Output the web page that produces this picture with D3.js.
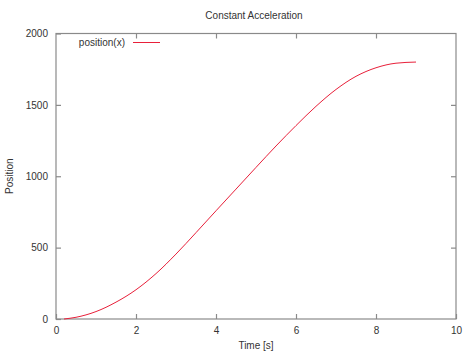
<!DOCTYPE html>
<html>
<head>
<meta charset="utf-8">
<script src="https://cdn.jsdelivr.net/npm/d3@7"></script>
<style>
  html, body { margin: 0; padding: 0; background: #fff; }
  svg { display: block; font-family: "Liberation Sans", Arial, sans-serif; }
</style>
</head>
<body>
<svg id="chart" width="474" height="355"></svg>
<script>
const timeValues = [0.2, 0.5, 1.0, 1.5, 2.0, 2.5, 3.0, 3.5, 4.0, 4.5, 5.0, 5.5, 6.0, 6.5, 7.0, 7.5, 8.0, 8.5, 9.0];
const positionValues = [0, 12, 52, 118, 205, 318, 455, 605, 758, 910, 1062, 1212, 1355, 1490, 1608, 1700, 1760, 1792, 1800];
const xTicks = [0, 2, 4, 6, 8, 10];
const yTicks = [0, 500, 1000, 1500, 2000];
const seriesName = "position(x)";
const chartTitle = "Constant Acceleration";
const xLabel = "Time [s]";
const yLabel = "Position";

(function () {
const svg = d3.select("#chart");
const mL = 56, mR = 456, mT = 33.5, mB = 319;
const x = d3.scaleLinear().domain([0, 10]).range([mL, mR]);
const y = d3.scaleLinear().domain([0, 2000]).range([mB, mT]);
const textColor = "#333";
const borderColor = "#8a8a8a";
const tickLen = 5;

svg.append("rect")
  .attr("x", mL).attr("y", mT)
  .attr("width", mR - mL).attr("height", mB - mT)
  .attr("fill", "none").attr("stroke", borderColor).attr("stroke-width", 1.2);

const gxb = svg.append("g").attr("transform", `translate(0,${mB})`)
  .call(d3.axisBottom(x).tickValues(xTicks).tickSize(-tickLen).tickPadding(8).tickFormat(d3.format("d")));
const gxt = svg.append("g").attr("transform", `translate(0,${mT})`)
  .call(d3.axisTop(x).tickValues(xTicks.slice(1, -1)).tickSize(-tickLen).tickFormat(""));
const gyl = svg.append("g").attr("transform", `translate(${mL},0)`)
  .call(d3.axisLeft(y).tickValues(yTicks).tickSize(-tickLen).tickPadding(8).tickFormat(d3.format("d")));
const gyr = svg.append("g").attr("transform", `translate(${mR},0)`)
  .call(d3.axisRight(y).tickValues(yTicks.slice(1, -1)).tickSize(-tickLen).tickFormat(""));

[gxb, gxt, gyl, gyr].forEach(g => {
  g.select(".domain").remove();
  g.selectAll(".tick line").attr("stroke", borderColor).attr("stroke-width", 1.2);
  g.selectAll(".tick text").attr("fill", textColor).attr("font-size", 10)
    .attr("font-family", "Liberation Sans, Arial, sans-serif");
});

svg.append("text").attr("x", 254).attr("y", 19).attr("text-anchor", "middle")
  .attr("font-size", 10).attr("fill", textColor).text(chartTitle);
svg.append("text").attr("x", (mL + mR) / 2).attr("y", 349).attr("text-anchor", "middle")
  .attr("font-size", 10).attr("fill", textColor).text(xLabel);
svg.append("text").attr("transform", `translate(13,${(mT + mB) / 2}) rotate(-90)`)
  .attr("text-anchor", "middle").attr("font-size", 10).attr("fill", textColor).text(yLabel);

const data = timeValues.map((t, i) => ({ t, p: positionValues[i] }));
const line = d3.line().x(d => x(d.t)).y(d => y(d.p)).curve(d3.curveMonotoneX);
svg.append("path").datum(data).attr("d", line)
  .attr("fill", "none").attr("stroke", "#e8203a").attr("stroke-width", 1);

svg.append("text").attr("x", 125).attr("y", 45.5).attr("text-anchor", "end")
  .attr("font-size", 10).attr("fill", textColor).text(seriesName);
svg.append("line").attr("x1", 133).attr("x2", 160).attr("y1", 42.5).attr("y2", 42.5)
  .attr("stroke", "#e8203a").attr("stroke-width", 1);
})();
</script>
</body>
</html>
